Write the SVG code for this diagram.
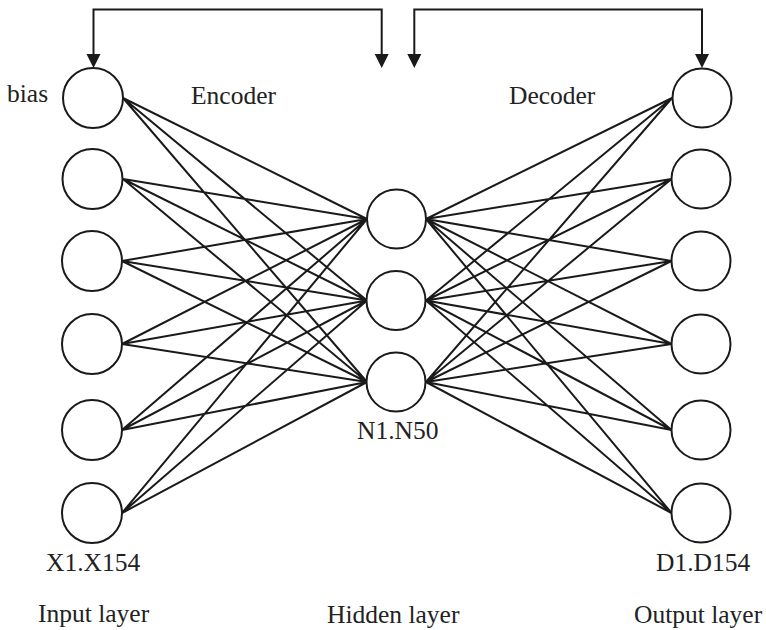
<svg xmlns="http://www.w3.org/2000/svg" width="766" height="630" viewBox="0 0 766 630">
  <style>
    .node { fill: #ffffff; stroke: #1a1a1a; stroke-width: 2; }
    .edge { stroke: #1a1a1a; stroke-width: 2; fill: none; stroke-linecap: round; }
    .loop { stroke: #1a1a1a; stroke-width: 2; fill: none; }
    .lbl { font-family: "Liberation Serif", "Times New Roman", serif; font-size: 25.5px; fill: #222222; }
  </style>
  <defs>
    <path id="head" d="M -7 -14 L 7 -14 L 0 0 Z" fill="#1a1a1a"/>
  </defs>
  <rect width="766" height="630" fill="#ffffff"/>

  <!-- feedback brackets over the encoder and decoder -->
  <g id="feedback">
    <path class="loop" d="M 93.5 56 V 9.5 H 381.7 V 56"/>
    <path class="loop" d="M 414.3 56 V 9.5 H 702 V 56"/>
    <use href="#head" x="93.5" y="68"/>
    <use href="#head" x="381.7" y="68"/>
    <use href="#head" x="414.3" y="68"/>
    <use href="#head" x="702" y="68"/>
  </g>

  <!-- fully connected weights -->
  <g id="connectors">
    <!-- input -> hidden -->
    <path class="edge" d="M123 98L367 219M123 98L367 300.5M123 98L367 382
      M123 179L367 219M123 179L367 300.5M123 179L367 382
      M122 261L367 219M122 261L367 300.5M122 261L367 382
      M122 344L367 219M122 344L367 300.5M122 344L367 382
      M122 430L367 219M122 430L367 300.5M122 430L367 382
      M122 513L367 219M122 513L367 300.5M122 513L367 382"/>
    <!-- hidden -> output -->
    <path class="edge" d="M426 219L672 98M426 300.5L672 98M426 382L672 98
      M426 219L671.5 179M426 300.5L671.5 179M426 382L671.5 179
      M426 219L671.5 261M426 300.5L671.5 261M426 382L671.5 261
      M426 219L671.5 344M426 300.5L671.5 344M426 382L671.5 344
      M426 219L671.5 430M426 300.5L671.5 430M426 382L671.5 430
      M426 219L671.5 513M426 300.5L671.5 513M426 382L671.5 513"/>
  </g>

  <!-- input layer -->
  <g id="in0"><circle class="node" cx="93" cy="98" r="30"/></g>
  <g id="in1"><circle class="node" cx="92.5" cy="179" r="30"/></g>
  <g id="in2"><circle class="node" cx="92" cy="261" r="30"/></g>
  <g id="in3"><circle class="node" cx="92" cy="344" r="30"/></g>
  <g id="in4"><circle class="node" cx="92" cy="430" r="30"/></g>
  <g id="in5"><circle class="node" cx="92" cy="513" r="30"/></g>

  <!-- hidden layer -->
  <g id="h0"><circle class="node" cx="396.5" cy="219" r="29.5"/></g>
  <g id="h1"><circle class="node" cx="396" cy="300.5" r="29.5"/></g>
  <g id="h2"><circle class="node" cx="396" cy="382" r="29.5"/></g>

  <!-- output layer -->
  <g id="out0"><circle class="node" cx="702" cy="98" r="29.5"/></g>
  <g id="out1"><circle class="node" cx="701" cy="179" r="29.5"/></g>
  <g id="out2"><circle class="node" cx="701" cy="261" r="29.5"/></g>
  <g id="out3"><circle class="node" cx="701" cy="344" r="29.5"/></g>
  <g id="out4"><circle class="node" cx="701" cy="430" r="29.5"/></g>
  <g id="out5"><circle class="node" cx="701" cy="513" r="29.5"/></g>

  <!-- labels -->
  <g id="labels">
    <text class="lbl" x="7" y="102">bias</text>
    <text class="lbl" x="191" y="104">Encoder</text>
    <text class="lbl" x="509" y="104">Decoder</text>
    <text class="lbl" x="357" y="439">N1.N50</text>
    <text class="lbl" x="46" y="571">X1.X154</text>
    <text class="lbl" x="656" y="571">D1.D154</text>
    <text class="lbl" x="38" y="622">Input layer</text>
    <text class="lbl" x="327" y="623">Hidden layer</text>
    <text class="lbl" x="634" y="623">Output layer</text>
  </g>
</svg>
